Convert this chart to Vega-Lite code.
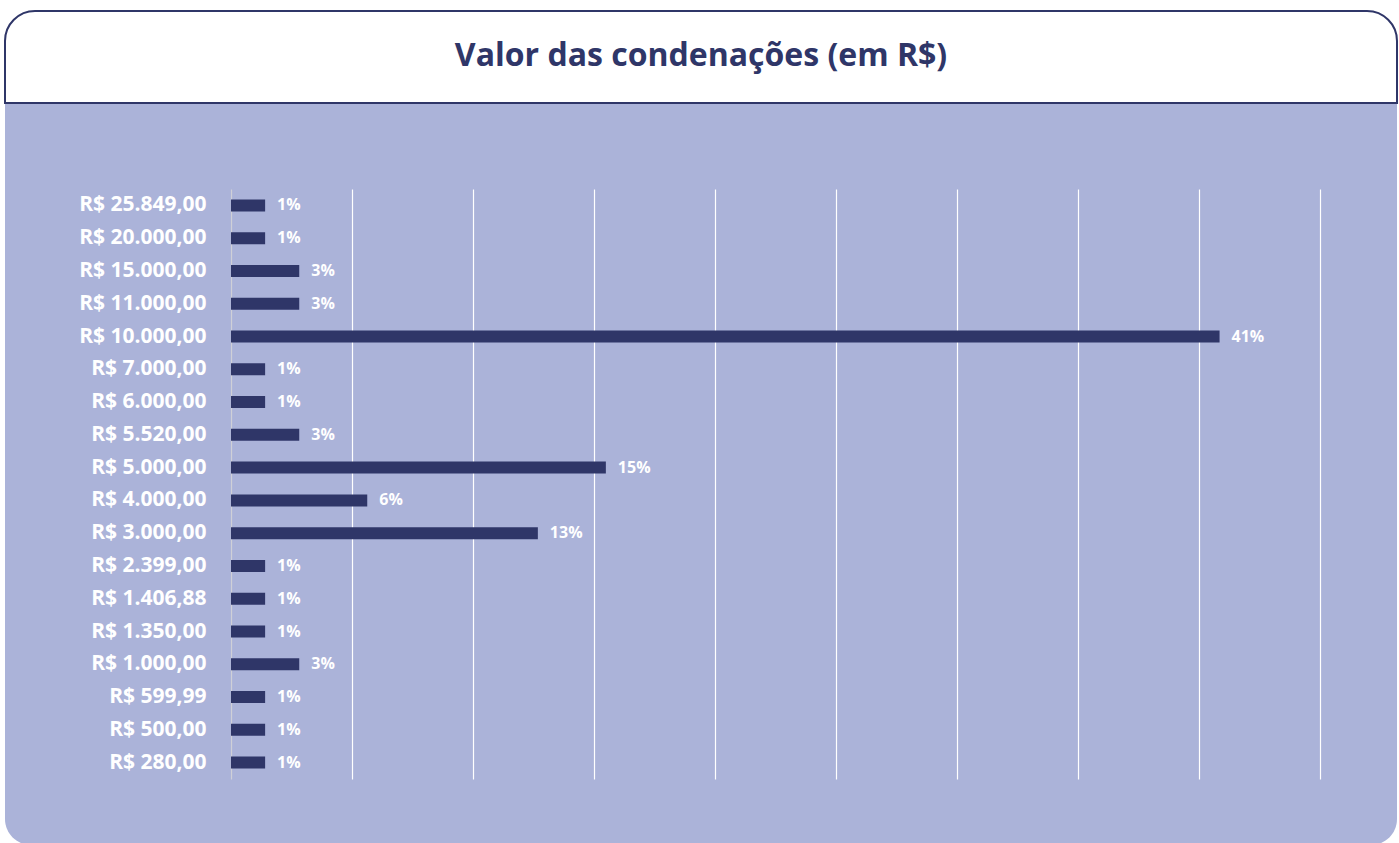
{
  "$schema": "https://vega.github.io/schema/vega-lite/v6.json",
  "background": "white",
  "padding": {"left": 4, "top": 10, "right": 3, "bottom": 0},
  "spacing": 0,
  "config": {
    "font": "Open Sans",
    "view": {"stroke": null},
    "style": {
      "caixa-titulo": {"cornerRadiusTopLeft": 30, "cornerRadiusTopRight": 30},
      "painel": {"cornerRadiusBottomLeft": 26, "cornerRadiusBottomRight": 26},
      "cell": {"cornerRadiusBottomLeft": 26, "cornerRadiusBottomRight": 26}
    }
  },
  "vconcat": [
    {
      "width": 1392,
      "height": 92,
      "view": {"style": "caixa-titulo", "fill": "white", "stroke": "#2f3668", "strokeWidth": 2},
      "data": {"values": [{"titulo": "Valor das condenações (em R$)"}]},
      "mark": {"type": "text", "font": "Open Sans", "fontWeight": "bold", "fontSize": 32, "color": "#2f3668", "dy": -1, "baseline": "middle", "align": "center"},
      "encoding": {"text": {"field": "titulo", "type": "nominal"}}
    },
    {
      "width": 1392,
      "height": 741,
      "view": {"style": "painel", "fill": "#abb3d9", "stroke": null, "cornerRadius": 0},
      "data": {"values": [
        {"valor": "R$ 25.849,00", "percentual": 0.0141},
        {"valor": "R$ 20.000,00", "percentual": 0.0141},
        {"valor": "R$ 15.000,00", "percentual": 0.0282},
        {"valor": "R$ 11.000,00", "percentual": 0.0282},
        {"valor": "R$ 10.000,00", "percentual": 0.4085},
        {"valor": "R$ 7.000,00", "percentual": 0.0141},
        {"valor": "R$ 6.000,00", "percentual": 0.0141},
        {"valor": "R$ 5.520,00", "percentual": 0.0282},
        {"valor": "R$ 5.000,00", "percentual": 0.1549},
        {"valor": "R$ 4.000,00", "percentual": 0.0563},
        {"valor": "R$ 3.000,00", "percentual": 0.1268},
        {"valor": "R$ 2.399,00", "percentual": 0.0141},
        {"valor": "R$ 1.406,88", "percentual": 0.0141},
        {"valor": "R$ 1.350,00", "percentual": 0.0141},
        {"valor": "R$ 1.000,00", "percentual": 0.0282},
        {"valor": "R$ 599,99", "percentual": 0.0141},
        {"valor": "R$ 500,00", "percentual": 0.0141},
        {"valor": "R$ 280,00", "percentual": 0.0141}
      ]},
      "encoding": {
        "y": {
          "field": "valor", "type": "nominal", "sort": null,
          "scale": {"range": [85, 675], "paddingInner": 0.634, "paddingOuter": 0.317},
          "axis": {
            "title": null, "orient": "left", "offset": -226, "domain": false, "ticks": false, "tickSize": 0,
            "labelPadding": 25, "labelColor": "white", "labelFont": "Open Sans", "labelFontWeight": "bold",
            "labelFontSize": 21, "labelBaseline": "middle"
          }
        },
        "x": {
          "field": "percentual", "type": "quantitative",
          "scale": {"domain": [-0.093388, 0.481818], "nice": false, "zero": false},
          "axis": {
            "title": null, "orient": "top", "values": [0, 0.05, 0.1, 0.15, 0.2, 0.25, 0.3, 0.35, 0.4, 0.45],
            "labels": false, "ticks": false, "domain": false,
            "grid": true, "gridWidth": 1.2,
            "gridColor": {"condition": {"test": "datum.value === 0", "value": "#cfd0d8"}, "value": "white"},
            "gridOpacity": 1
          }
        }
      },
      "layer": [
        {"mark": {"type": "bar", "color": "#2f3668"}},
        {
          "mark": {"type": "text", "align": "left", "baseline": "middle", "dx": 12, "font": "Open Sans", "fontWeight": "bold", "fontSize": 16, "color": "white"},
          "encoding": {"text": {"field": "percentual", "type": "quantitative", "format": ".0%"}}
        }
      ]
    }
  ]
}
